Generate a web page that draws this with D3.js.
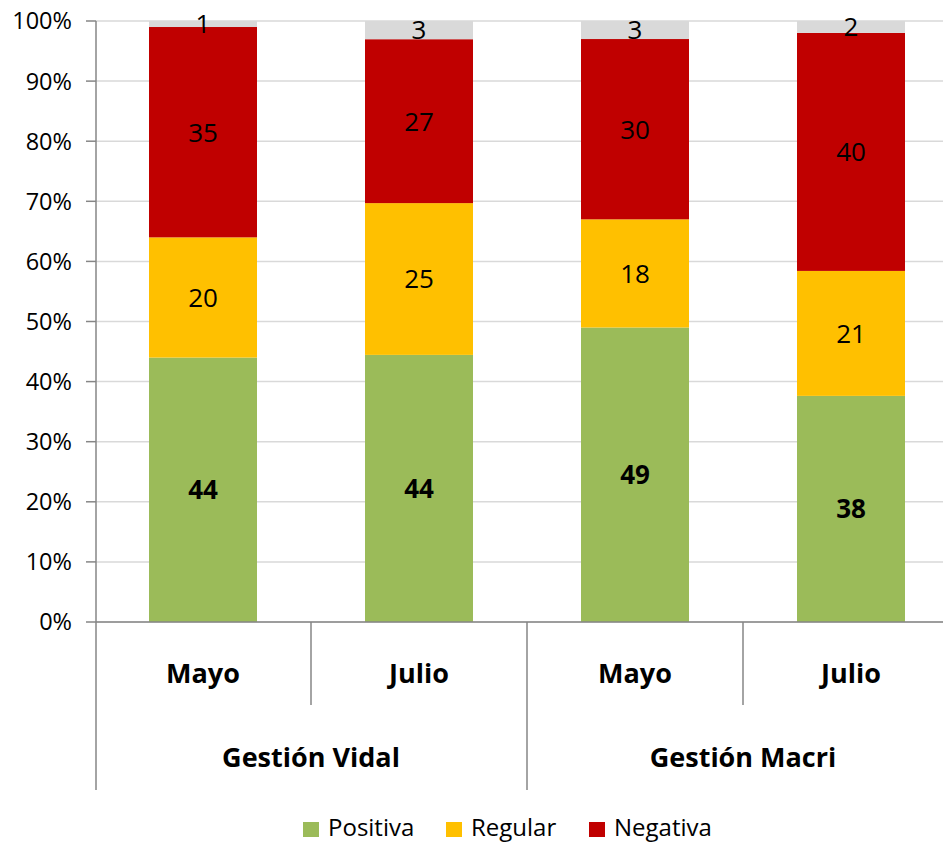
<!DOCTYPE html>
<html><head><meta charset="utf-8">
<script src="https://cdn.jsdelivr.net/npm/d3@7"></script>
<style>body{margin:0;background:#fff}svg{display:block}text{font-family:"Open Sans","Noto Sans",sans-serif}</style>
</head><body><div id="chart"></div>
<script>
const months = ["Mayo", "Julio", "Mayo", "Julio"];
const groups = ["Gestión Vidal", "Gestión Macri"];
const positiva = [44, 44, 49, 38];
const regular = [20, 25, 18, 21];
const negativa = [35, 27, 30, 40];
const nsnc = [1, 3, 3, 2];
const seriesNames = ["Positiva", "Regular", "Negativa", "Ns/Nc"];
const colors = ["#9BBB59", "#FFC000", "#C00000", "#D9D9D9"];
const yTicks = [0, 0.1, 0.2, 0.3, 0.4, 0.5, 0.6, 0.7, 0.8, 0.9, 1];

(function () {
const W = 943, H = 843;
const pLeft = 96, pTop = 21, pBottom = 622, pRight = 960;
const svg = d3.select("#chart").append("svg").attr("width", W).attr("height", H);

const keys = months.map((m, i) => i);
const x = d3.scaleBand().domain(keys).range([pLeft - 1, pRight - 1]).paddingInner(0.5).paddingOuter(0.25);
const y = d3.scaleLinear().domain([0, 1]).range([pBottom, pTop]);

const rows = keys.map(i => {
  const vals = [positiva[i], regular[i], negativa[i], nsnc[i]];
  const tot = d3.sum(vals);
  const r = {i, tot};
  seriesNames.forEach((s, k) => r[s] = vals[k] / tot);
  r.raw = vals;
  return r;
});
const stack = d3.stack().keys(seriesNames)(rows);

// gridlines
svg.append("g").selectAll("line").data(yTicks).join("line")
  .attr("x1", pLeft).attr("x2", W).attr("y1", d => y(d)).attr("y2", d => y(d))
  .attr("stroke", "#D9D9D9").attr("stroke-width", 1.5);

// bars
stack.forEach((layer, k) => {
  const g = svg.append("g");
  g.selectAll("rect").data(layer).join("rect")
    .attr("x", d => x(d.data.i)).attr("width", x.bandwidth())
    .attr("y", d => y(d[1])).attr("height", d => y(d[0]) - y(d[1]))
    .attr("fill", colors[k]);
  g.selectAll("text").data(layer).join("text")
    .attr("x", d => x(d.data.i) + x.bandwidth() / 2)
    .attr("y", d => (y(d[0]) + y(d[1])) / 2)
    .attr("dy", "0.36em").attr("text-anchor", "middle")
    .attr("font-size", 26)
    .attr("font-weight", k === 0 ? "bold" : "normal")
    .attr("fill", "#000")
    .text(d => d.data.raw[k]);
});

// y axis
const axisColor = "#868686";
svg.append("line").attr("x1", pLeft).attr("x2", pLeft).attr("y1", pTop).attr("y2", 790)
  .attr("stroke", axisColor).attr("stroke-width", 1.5);
svg.append("line").attr("x1", pLeft).attr("x2", W).attr("y1", pBottom).attr("y2", pBottom)
  .attr("stroke", axisColor).attr("stroke-width", 1.5);
svg.append("g").selectAll("line").data(yTicks).join("line")
  .attr("x1", 86).attr("x2", pLeft).attr("y1", d => y(d)).attr("y2", d => y(d))
  .attr("stroke", axisColor).attr("stroke-width", 1.5);
svg.append("g").selectAll("text").data(yTicks).join("text")
  .attr("x", 72).attr("y", d => y(d)).attr("dy", "0.36em").attr("text-anchor", "end")
  .attr("font-size", 23.5).attr("fill", "#000")
  .text(d => d3.format(".0%")(d));

// category separators
const step = x.step();
keys.forEach(i => {
  const xb = x(i) - step * 0.25;
  const isGroupStart = i % 2 === 0;
  if (i > 0) svg.append("line").attr("x1", xb).attr("x2", xb).attr("y1", pBottom).attr("y2", isGroupStart ? 790 : 705)
    .attr("stroke", axisColor).attr("stroke-width", 1.5);
});
svg.append("g").selectAll("text").data(keys).join("text")
  .attr("x", i => x(i) + x.bandwidth() / 2).attr("y", 673).attr("dy", "0.36em")
  .attr("text-anchor", "middle").attr("font-size", 27).attr("font-weight", "bold")
  .text(i => months[i]);
svg.append("g").selectAll("text").data(groups).join("text")
  .attr("x", (g, j) => (x(j * 2) + x(j * 2 + 1) + x.bandwidth()) / 2).attr("y", 757).attr("dy", "0.36em")
  .attr("text-anchor", "middle").attr("font-size", 27).attr("font-weight", "bold")
  .text(g => g);

// legend
const legendItems = seriesNames.slice(0, 3);
const legendX = [303, 446, 589];
const lg = svg.append("g");
legendItems.forEach((s, k) => {
  lg.append("rect").attr("x", legendX[k]).attr("y", 822).attr("width", 16).attr("height", 15).attr("fill", colors[k]);
  lg.append("text").attr("x", legendX[k] + 25).attr("y", 836)
    .attr("font-size", 24).attr("fill", "#000").text(s);
});
})();
</script></body></html>
